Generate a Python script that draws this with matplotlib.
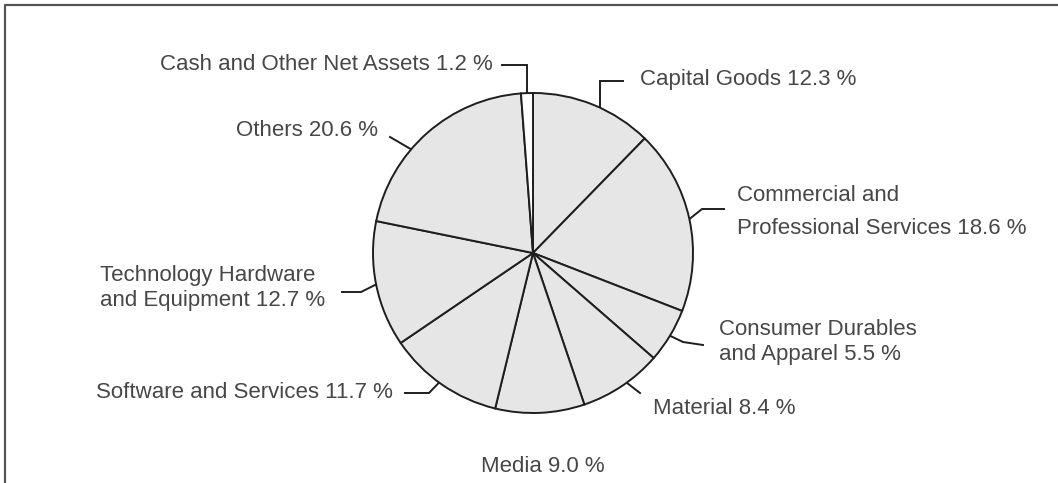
import numpy as np
import matplotlib
matplotlib.use("Agg")
import matplotlib.pyplot as plt
from matplotlib.lines import Line2D

# ---- data ----
categories = ["Capital Goods", "Commercial and\nProfessional Services",
              "Consumer Durables\nand Apparel", "Material", "Media",
              "Software and Services", "Technology Hardware\nand Equipment",
              "Others", "Cash and Other Net Assets"]
values = [12.3, 18.6, 5.5, 8.4, 9.0, 11.7, 12.7, 20.6, 1.2]

W, H = 1058, 483
fig = plt.figure(figsize=(W / 100, H / 100), dpi=100)
ax = fig.add_axes([0, 0, 1, 1])

def py(y):
    return H - y

CX, CY, R = 533, py(253), 160
fills = ["#e6e6e7"] * (len(values) - 1) + ["#ffffff"]
wedges, _ = ax.pie(values, startangle=90, counterclock=False, center=(CX, CY),
                   radius=R, colors=fills,
                   wedgeprops=dict(edgecolor="#1e1e1e", linewidth=1.4))
ax.set_xlim(0, W)
ax.set_ylim(0, H)
ax.set_aspect("equal")
ax.axis("off")

# layout: (text x, text y, ha, linespacing, angle nudge, leader points after edge)
# leader point None x means "same x as edge"
layout = [
    (640, 80, "left", 1.3, -2.8, [(None, 81), (623, 81)]),
    (737, 212, "left", 1.7, 0.0, [(702, 209), (724, 209)]),
    (719, 342, "left", 1.3, 0.0, [(683, 342), (703, 345)]),
    (653, 408, "left", 1.3, 2.0, [(640, 393)]),
    (543, 467, "center", 1.3, 0.0, []),
    (393, 393, "right", 1.3, -1.2, [(429, 393), (405, 393)]),
    (100, 288, "left", 1.3, 0.0, [(361, 292), (342, 292)]),
    (236, 130, "left", 1.3, 8.2, [(390, 137)]),
    (493, 65, "right", 1.3, 0.0, [(None, 65), (502, 65)]),
]

txt_color = "#474747"
for w, cat, val, (tx, ty, ha, ls, nudge, pts) in zip(wedges, categories, values, layout):
    label = f"{cat} {val:.1f} %"
    ax.text(tx, py(ty), label, ha=ha, va="center", fontsize=16,
            family="Liberation Sans", color=txt_color,
            linespacing=ls, multialignment="left")
    if pts:
        ang = np.deg2rad((w.theta1 + w.theta2) / 2 + nudge)
        ex, ey = CX + R * np.cos(ang), CY + R * np.sin(ang)
        xs, ys = [ex], [ey]
        for (lx, ly) in pts:
            xs.append(ex if lx is None else lx)
            ys.append(py(ly))
        ax.add_line(Line2D(xs, ys, color="#1e1e1e", linewidth=1.4,
                           solid_joinstyle="miter", zorder=0.5))

# partial frame (left and top)
fig.add_artist(Line2D([4.5 / W, 4.5 / W, 1.0], [0.0, 1 - 4.5 / H, 1 - 4.5 / H],
                      transform=fig.transFigure, color="#555555", linewidth=1.6))

fig.savefig("out.png", dpi=100)
